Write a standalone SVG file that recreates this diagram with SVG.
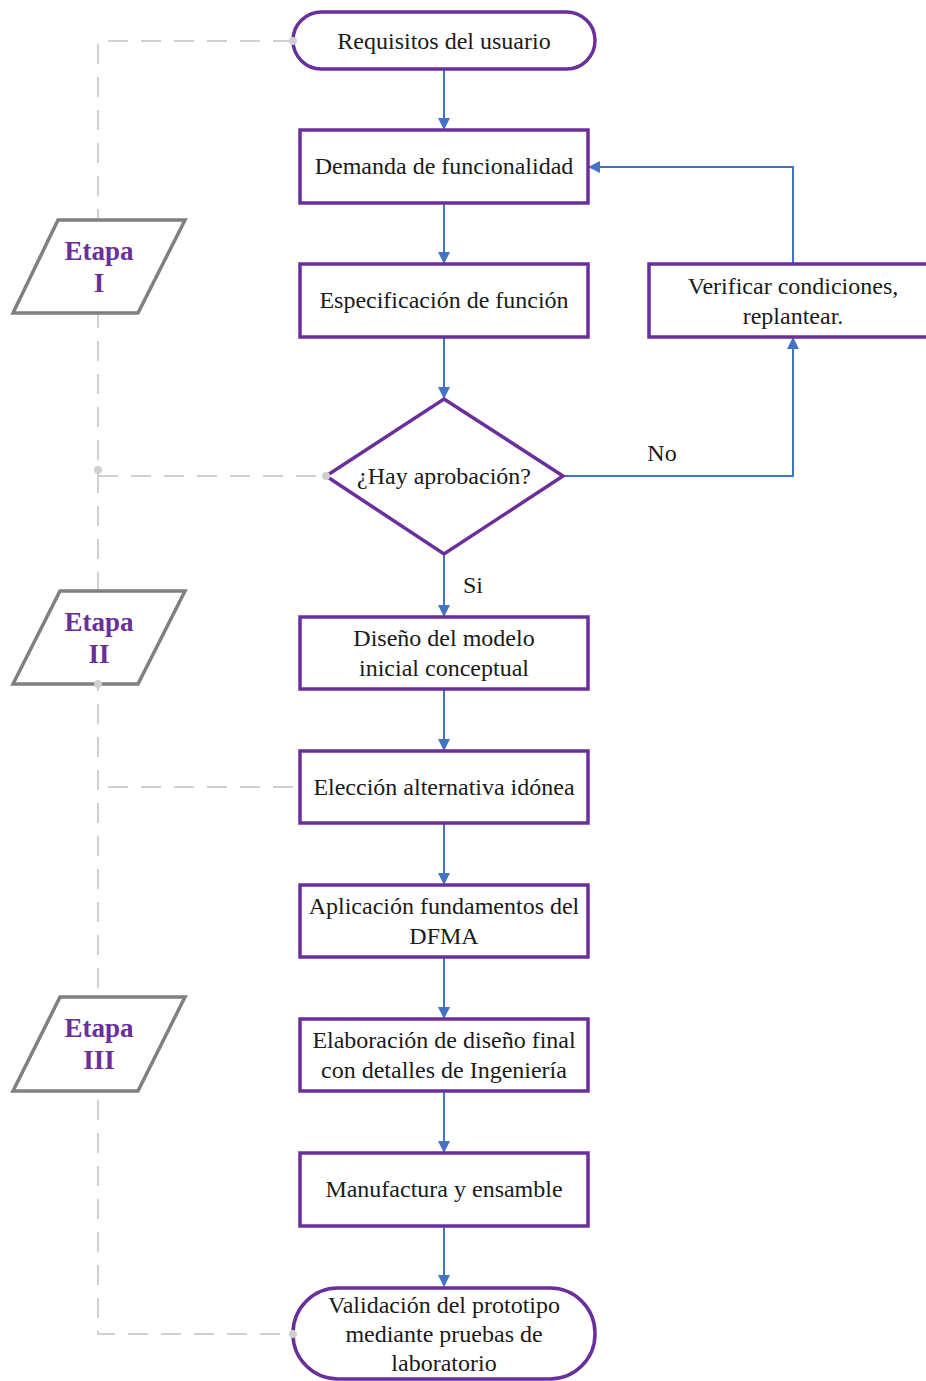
<svg xmlns="http://www.w3.org/2000/svg" width="926" height="1381" viewBox="0 0 926 1381">
<style>
.box{fill:#fff;stroke:#6b2f9b;stroke-width:3.5}
.etapa{fill:#fff;stroke:#808080;stroke-width:3.5}
.t{font-family:"Liberation Serif",serif;font-size:24px;fill:#1a1a1a;text-anchor:middle;dominant-baseline:central}
.et{font-family:"Liberation Serif",serif;font-size:27px;font-weight:bold;fill:#6b2f9b;text-anchor:middle;dominant-baseline:central}
.c{fill:none;stroke:#4472c4;stroke-width:2}
.d{fill:none;stroke:#d0d0d0;stroke-width:2;stroke-dasharray:20 13}
.dot{fill:#d0d0d0}
</style>
<defs>
<marker id="ah" markerWidth="12" markerHeight="12" refX="11" refY="6" orient="auto" markerUnits="userSpaceOnUse">
<path d="M0,0 L12,6 L0,12 Z" fill="#4472c4"/>
</marker>
</defs>
<rect width="926" height="1381" fill="#fff"/>
<g id="dashed">
<path class="d" d="M293,41 H98 V1334 H293"/>
<path class="d" d="M98,476 H326"/>
<path class="d" d="M108,787 H300"/>
</g>
<g id="connectors">
<path class="c" d="M444,69 V129" marker-end="url(#ah)"/>
<path class="c" d="M444,203 V263" marker-end="url(#ah)"/>
<path class="c" d="M444,337 V398" marker-end="url(#ah)"/>
<path class="c" d="M444,554 V616" marker-end="url(#ah)"/>
<path class="c" d="M444,689 V750" marker-end="url(#ah)"/>
<path class="c" d="M444,823 V884" marker-end="url(#ah)"/>
<path class="c" d="M444,957 V1018" marker-end="url(#ah)"/>
<path class="c" d="M444,1091 V1152" marker-end="url(#ah)"/>
<path class="c" d="M444,1226 V1286" marker-end="url(#ah)"/>
<path class="c" d="M563,476 H793 V338" marker-end="url(#ah)"/>
<path class="c" d="M793,264 V167 H589" marker-end="url(#ah)"/>
<text class="t" x="662" y="453">No</text>
<text class="t" x="473" y="585">Si</text>
</g>
<g id="etapa1">
<polygon class="etapa" points="58,220 185,220 138,313 13,313"/>
<text class="et" x="99" y="251">Etapa</text>
<text class="et" x="99" y="283">I</text>
</g>
<g id="etapa2">
<polygon class="etapa" points="60,591 185,591 138,684 13,684"/>
<text class="et" x="99" y="622">Etapa</text>
<text class="et" x="99" y="654">II</text>
</g>
<g id="etapa3">
<polygon class="etapa" points="60,997 185,997 138,1091 13,1091"/>
<text class="et" x="99" y="1028">Etapa</text>
<text class="et" x="99" y="1060">III</text>
</g>
<g id="requisitos">
<rect class="box" x="293" y="12" width="302" height="57" rx="28.5"/>
<text class="t" x="444" y="41">Requisitos del usuario</text>
</g>
<g id="demanda">
<rect class="box" x="300" y="130" width="288" height="73"/>
<text class="t" x="444" y="166">Demanda de funcionalidad</text>
</g>
<g id="especificacion">
<rect class="box" x="300" y="264" width="288" height="73"/>
<text class="t" x="444" y="300">Especificación de función</text>
</g>
<g id="verificar">
<rect class="box" x="649" y="264" width="290" height="73"/>
<text class="t" x="793" y="286">Verificar condiciones,</text>
<text class="t" x="793" y="316">replantear.</text>
</g>
<g id="aprobacion">
<polygon class="box" points="444,399 563,476 444,554 326,476"/>
<text class="t" x="444" y="476">¿Hay aprobación?</text>
</g>
<g id="diseno">
<rect class="box" x="300" y="617" width="288" height="72"/>
<text class="t" x="444" y="638">Diseño del modelo</text>
<text class="t" x="444" y="668">inicial conceptual</text>
</g>
<g id="eleccion">
<rect class="box" x="300" y="751" width="288" height="72"/>
<text class="t" x="444" y="787">Elección alternativa idónea</text>
</g>
<g id="aplicacion">
<rect class="box" x="300" y="885" width="288" height="72"/>
<text class="t" x="444" y="906">Aplicación fundamentos del</text>
<text class="t" x="444" y="936">DFMA</text>
</g>
<g id="elaboracion">
<rect class="box" x="300" y="1019" width="288" height="72"/>
<text class="t" x="444" y="1040">Elaboración de diseño final</text>
<text class="t" x="444" y="1070">con detalles de Ingeniería</text>
</g>
<g id="manufactura">
<rect class="box" x="300" y="1153" width="288" height="73"/>
<text class="t" x="444" y="1189">Manufactura y ensamble</text>
</g>
<g id="validacion">
<rect class="box" x="293" y="1288" width="302" height="91" rx="45"/>
<text class="t" x="444" y="1305">Validación del prototipo</text>
<text class="t" x="444" y="1334">mediante pruebas de</text>
<text class="t" x="444" y="1363">laboratorio</text>
</g>
<g id="dots">
<circle class="dot" cx="293" cy="41" r="4"/>
<circle class="dot" cx="98" cy="470" r="4"/>
<circle class="dot" cx="326" cy="476" r="4"/>
<circle class="dot" cx="98" cy="684" r="4"/>
<circle class="dot" cx="293" cy="1334" r="4"/>
</g>
</svg>
